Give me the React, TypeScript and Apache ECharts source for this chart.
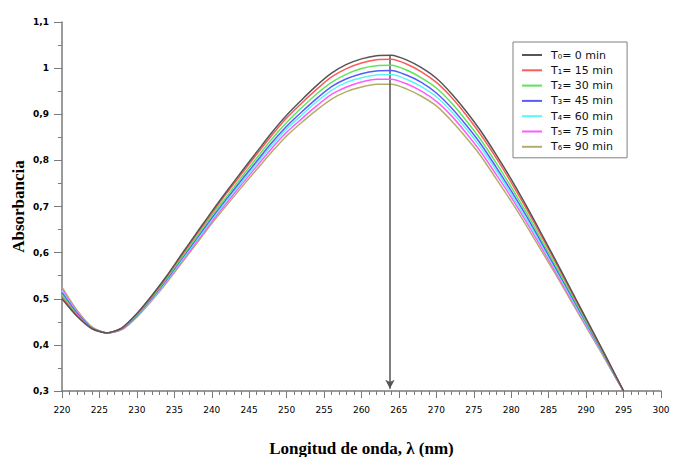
import React, { useEffect, useRef } from "react";
import * as echarts from "echarts";

// Wavelengths (nm)
const wavelengths = [
  220, 222, 224, 226, 228, 230, 232, 234, 236, 238, 240, 242, 244, 246, 248, 250,
  252, 254, 256, 258, 260, 262, 264, 266, 268, 270, 272, 274, 276, 278, 280, 282,
  284, 286, 288, 290, 292, 294, 295,
];

const seriesNames = [
  "T₀= 0 min",
  "T₁= 15 min",
  "T₂= 30 min",
  "T₃= 45 min",
  "T₄= 60 min",
  "T₅= 75 min",
  "T₆= 90 min",
];

const seriesColors = ["#555555", "#ff5a5a", "#5ae65a", "#5a5aff", "#5af5f5", "#ff5aff", "#b4ac6a"];

const t0 = [
  0.5, 0.462, 0.435, 0.426, 0.437, 0.468, 0.507, 0.55, 0.597, 0.643, 0.689, 0.733, 0.776, 0.818, 0.86, 0.898,
  0.931, 0.962, 0.989, 1.008, 1.02, 1.027, 1.028, 1.018, 1.001, 0.978, 0.945, 0.906, 0.862, 0.812, 0.759, 0.702,
  0.642, 0.581, 0.519, 0.457, 0.395, 0.332, 0.3,
];
const t15 = [
  0.504, 0.464, 0.436, 0.426, 0.436, 0.467, 0.505, 0.548, 0.594, 0.64, 0.685, 0.729, 0.771, 0.813, 0.854, 0.892,
  0.924, 0.954, 0.981, 0.999, 1.011, 1.018, 1.019, 1.009, 0.992, 0.969, 0.937, 0.898, 0.854, 0.805, 0.752, 0.696,
  0.637, 0.577, 0.516, 0.455, 0.393, 0.331, 0.3,
];
const t30 = [
  0.509, 0.466, 0.436, 0.426, 0.436, 0.465, 0.503, 0.545, 0.59, 0.635, 0.68, 0.722, 0.764, 0.805, 0.846, 0.882,
  0.914, 0.944, 0.969, 0.987, 0.999, 1.005, 1.006, 0.996, 0.979, 0.957, 0.925, 0.886, 0.843, 0.794, 0.742, 0.687,
  0.629, 0.57, 0.511, 0.451, 0.391, 0.33, 0.3,
];
const t45 = [
  0.513, 0.469, 0.437, 0.426, 0.435, 0.464, 0.501, 0.542, 0.587, 0.631, 0.675, 0.717, 0.758, 0.798, 0.838, 0.874,
  0.905, 0.934, 0.96, 0.977, 0.988, 0.994, 0.995, 0.985, 0.969, 0.946, 0.914, 0.876, 0.834, 0.785, 0.734, 0.68,
  0.623, 0.565, 0.507, 0.448, 0.389, 0.329, 0.3,
];
const t60 = [
  0.517, 0.47, 0.438, 0.426, 0.435, 0.463, 0.499, 0.54, 0.584, 0.628, 0.671, 0.713, 0.753, 0.793, 0.832, 0.868,
  0.898, 0.927, 0.952, 0.969, 0.979, 0.985, 0.986, 0.976, 0.96, 0.938, 0.906, 0.868, 0.826, 0.778, 0.727, 0.673,
  0.618, 0.561, 0.503, 0.445, 0.387, 0.329, 0.3,
];
const t75 = [
  0.521, 0.472, 0.438, 0.426, 0.434, 0.462, 0.498, 0.538, 0.581, 0.624, 0.667, 0.708, 0.748, 0.787, 0.826, 0.861,
  0.89, 0.918, 0.943, 0.959, 0.97, 0.976, 0.976, 0.966, 0.95, 0.928, 0.897, 0.859, 0.817, 0.769, 0.72, 0.667,
  0.612, 0.556, 0.499, 0.442, 0.386, 0.328, 0.3,
];
const t90 = [
  0.525, 0.475, 0.439, 0.426, 0.433, 0.46, 0.496, 0.535, 0.578, 0.62, 0.663, 0.703, 0.742, 0.78, 0.818, 0.853,
  0.882, 0.909, 0.933, 0.949, 0.959, 0.965, 0.965, 0.955, 0.939, 0.918, 0.886, 0.849, 0.808, 0.76, 0.711, 0.659,
  0.605, 0.551, 0.495, 0.439, 0.384, 0.327, 0.3,
];
const seriesValues = [t0, t15, t30, t45, t60, t75, t90];

// Arrow marking the peak decrease
const arrowX = 263.8;
const arrowTop = 1.028;
const arrowBottom = 0.305;

const xTicks = { min: 220, max: 300, interval: 5 };
const yTicks = { min: 0.3, max: 1.1, interval: 0.1 };

export default function App() {
  const ref = useRef<HTMLDivElement>(null);

  useEffect(() => {
    if (!ref.current) return;
    const chart = echarts.init(ref.current, undefined, { renderer: "svg" });
    const axisColor = "#7a7a7a";
    const series: any[] = seriesNames.map((name, i) => ({
      name,
      type: "line",
      data: wavelengths.map((w, j) => [w, seriesValues[i][j]]),
      symbol: "none",
      showSymbol: false,
      smooth: 0.25,
      lineStyle: { color: seriesColors[i], width: 1.5 },
      itemStyle: { color: seriesColors[i] },
      z: 10 - i,
    }));
    series[0].markLine = {
      silent: true,
      symbol: ["none", "arrow"],
      symbolSize: [7, 9],
      label: { show: false },
      lineStyle: { color: "#555555", width: 1.5, type: "solid" },
      data: [[{ coord: [arrowX, arrowTop] }, { coord: [arrowX, arrowBottom] }]],
    };

    chart.setOption({
      animation: false,
      backgroundColor: "#ffffff",
      grid: {
        left: 62,
        top: 22,
        right: 12,
        bottom: 66,
        containLabel: false,
        outerBoundsMode: "none",
      },
      legend: {
        orient: "vertical",
        left: 513,
        top: 42,
        width: 110,
        padding: [7, 14, 5, 9],
        borderColor: "#808080",
        borderWidth: 1,
        icon: "rect",
        itemWidth: 20,
        itemHeight: 2,
        itemGap: 3.3,
        textStyle: {
          fontFamily: "DejaVu Sans",
          fontSize: 11,
          color: "#111",
          lineHeight: 12,
          padding: [0, 0, 0, 4],
        },
        data: seriesNames.map((name) => ({ name })),
      },
      xAxis: {
        type: "value",
        min: xTicks.min,
        max: xTicks.max,
        interval: xTicks.interval,
        name: "Longitud de onda, λ (nm)",
        nameLocation: "middle",
        nameGap: 49,
        nameMoveOverlap: false,
        nameTextStyle: {
          fontFamily: "Liberation Serif",
          fontWeight: "bold",
          fontSize: 17,
          color: "#000",
        },
        axisLine: { lineStyle: { color: axisColor, width: 1.5 } },
        axisTick: { show: true, length: 7, lineStyle: { color: axisColor, width: 1 } },
        minorTick: { show: true, splitNumber: 5, length: 4, lineStyle: { color: axisColor, width: 1 } },
        splitLine: { show: false },
        axisLabel: {
          fontFamily: "DejaVu Sans",
          fontSize: 9,
          color: "#000",
          margin: 14,
        },
      },
      yAxis: {
        type: "value",
        min: yTicks.min,
        max: yTicks.max,
        interval: yTicks.interval,
        name: "Absorbancia",
        nameLocation: "middle",
        nameGap: 35,
        nameMoveOverlap: false,
        nameRotate: 90,
        nameTextStyle: {
          fontFamily: "Liberation Serif",
          fontWeight: "bold",
          fontSize: 17,
          color: "#000",
        },
        axisLine: { show: true, lineStyle: { color: axisColor, width: 1.5 } },
        axisTick: { show: true, length: 8, lineStyle: { color: axisColor, width: 1 } },
        minorTick: { show: true, splitNumber: 2, length: 4, lineStyle: { color: axisColor, width: 1 } },
        splitLine: { show: false },
        axisLabel: {
          fontFamily: "DejaVu Sans",
          fontWeight: "bold",
          fontSize: 9,
          color: "#000",
          margin: 13,
          formatter: (v: number) => String(Math.round(v * 10) / 10).replace(".", ","),
        },
      },
      series,
    });
    return () => chart.dispose();
  }, []);

  return (
    <div
      ref={ref}
      style={{ position: "fixed", left: 0, top: 0, width: 673, height: 457, background: "#fff" }}
    />
  );
}
